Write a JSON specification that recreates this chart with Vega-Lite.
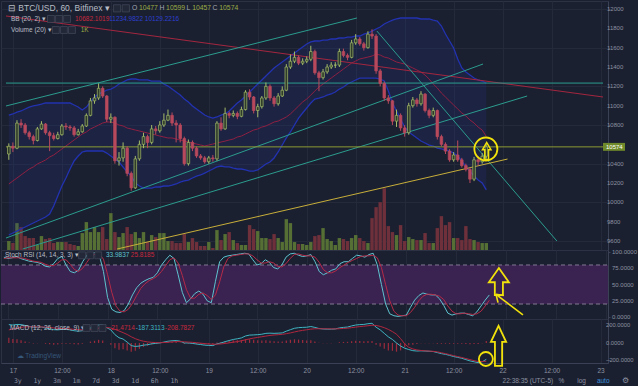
{
"$schema":"https://vega.github.io/schema/vega-lite/v6.json",
"background":"#1b2030",
"padding":0,
"spacing":0,
"bounds":"flush",
"config":{
 "font":"Liberation Sans",
 "view":{"stroke":"#2c3243","strokeWidth":1},
 "axis":{"labelColor":"#8c92a0","labelFontSize":6,"gridColor":"#242a3a","gridWidth":1,"domainColor":"#3a4154","tickColor":"#3a4154","tickSize":2,"labelPadding":1.5,"labelOverlap":false}
},
"datasets":{
"bars":[
{"h":-1,"o":10500,"hi":10610,"lo":10440,"c":10580,"v":1260,"bu":10903,"bm":10190,"bl":9662,"k":92,"d":90,"m":210,"s":150,"hist":60},
{"h":0,"o":10580,"hi":10620,"lo":10520,"c":10560,"v":980,"bu":10914,"bm":10221,"bl":9683,"k":90,"d":91,"m":205,"s":160,"hist":45},
{"h":1,"o":10560,"hi":10850,"lo":10550,"c":10820,"v":3780,"bu":10934,"bm":10252,"bl":9703,"k":91,"d":91,"m":212,"s":170,"hist":42},
{"h":2,"o":10820,"hi":10860,"lo":10770,"c":10800,"v":3220,"bu":10945,"bm":10283,"bl":9724,"k":93,"d":91,"m":210,"s":178,"hist":32},
{"h":3,"o":10800,"hi":10820,"lo":10700,"c":10720,"v":1960,"bu":10966,"bm":10314,"bl":9745,"k":90,"d":91,"m":200,"s":184,"hist":16},
{"h":4,"o":10720,"hi":10740,"lo":10650,"c":10680,"v":1680,"bu":10986,"bm":10345,"bl":9766,"k":88,"d":90,"m":190,"s":185,"hist":5},
{"h":5,"o":10680,"hi":10700,"lo":10600,"c":10640,"v":1680,"bu":10997,"bm":10366,"bl":9786,"k":86,"d":88,"m":178,"s":184,"hist":-6},
{"h":6,"o":10640,"hi":10780,"lo":10630,"c":10760,"v":700,"bu":11007,"bm":10397,"bl":9807,"k":85,"d":86,"m":180,"s":183,"hist":-3},
{"h":7,"o":10760,"hi":10840,"lo":10750,"c":10810,"v":1960,"bu":11017,"bm":10417,"bl":9828,"k":84,"d":85,"m":182,"s":183,"hist":-1},
{"h":8,"o":10810,"hi":10820,"lo":10700,"c":10720,"v":1540,"bu":11028,"bm":10438,"bl":9848,"k":82,"d":84,"m":172,"s":181,"hist":-9},
{"h":9,"o":10720,"hi":10740,"lo":10530,"c":10690,"v":1680,"bu":11028,"bm":10469,"bl":9879,"k":78,"d":81,"m":162,"s":177,"hist":-15},
{"h":10,"o":10690,"hi":10720,"lo":10640,"c":10660,"v":980,"bu":11028,"bm":10490,"bl":9962,"k":77,"d":79,"m":152,"s":172,"hist":-20},
{"h":11,"o":10660,"hi":10730,"lo":10650,"c":10700,"v":1120,"bu":11028,"bm":10521,"bl":10066,"k":82,"d":79,"m":150,"s":168,"hist":-18},
{"h":12,"o":10700,"hi":10810,"lo":10690,"c":10790,"v":1120,"bu":11028,"bm":10552,"bl":10169,"k":90,"d":83,"m":155,"s":165,"hist":-10},
{"h":13,"o":10790,"hi":10820,"lo":10750,"c":10780,"v":1120,"bu":11028,"bm":10583,"bl":10252,"k":93,"d":88,"m":155,"s":163,"hist":-8},
{"h":14,"o":10780,"hi":10800,"lo":10740,"c":10770,"v":840,"bu":11028,"bm":10614,"bl":10345,"k":80,"d":88,"m":150,"s":160,"hist":-10},
{"h":15,"o":10770,"hi":10790,"lo":10680,"c":10700,"v":700,"bu":11007,"bm":10645,"bl":10428,"k":70,"d":81,"m":140,"s":156,"hist":-16},
{"h":16,"o":10700,"hi":10760,"lo":10690,"c":10730,"v":560,"bu":10986,"bm":10676,"bl":10479,"k":68,"d":73,"m":135,"s":152,"hist":-17},
{"h":17,"o":10730,"hi":10810,"lo":10720,"c":10790,"v":2380,"bu":10955,"bm":10707,"bl":10521,"k":72,"d":70,"m":140,"s":150,"hist":-10},
{"h":18,"o":10790,"hi":10920,"lo":10780,"c":10900,"v":3920,"bu":10986,"bm":10728,"bl":10531,"k":85,"d":75,"m":150,"s":150,"hist":0},
{"h":19,"o":10900,"hi":11080,"lo":10890,"c":11050,"v":2520,"bu":11038,"bm":10759,"bl":10531,"k":95,"d":84,"m":170,"s":154,"hist":16},
{"h":20,"o":11050,"hi":11120,"lo":11020,"c":11080,"v":3220,"bu":11090,"bm":10779,"bl":10531,"k":98,"d":93,"m":185,"s":160,"hist":25},
{"h":21,"o":11080,"hi":11230,"lo":11060,"c":11180,"v":2520,"bu":11121,"bm":10800,"bl":10531,"k":99,"d":97,"m":205,"s":169,"hist":36},
{"h":22,"o":11180,"hi":11200,"lo":11080,"c":11100,"v":3220,"bu":11141,"bm":10821,"bl":10531,"k":95,"d":97,"m":205,"s":176,"hist":29},
{"h":23,"o":11100,"hi":11110,"lo":10830,"c":10860,"v":1540,"bu":11162,"bm":10831,"bl":10510,"k":70,"d":89,"m":175,"s":176,"hist":-1},
{"h":24,"o":10860,"hi":10920,"lo":10820,"c":10880,"v":5180,"bu":11172,"bm":10831,"bl":10479,"k":30,"d":65,"m":150,"s":171,"hist":-21},
{"h":25,"o":10880,"hi":10890,"lo":10400,"c":10430,"v":2520,"bu":11193,"bm":10821,"bl":10448,"k":12,"d":38,"m":95,"s":156,"hist":-61},
{"h":26,"o":10430,"hi":10520,"lo":10380,"c":10460,"v":1820,"bu":11224,"bm":10800,"bl":10417,"k":8,"d":17,"m":60,"s":137,"hist":-77},
{"h":27,"o":10460,"hi":10620,"lo":10420,"c":10560,"v":2380,"bu":11245,"bm":10790,"bl":10366,"k":7,"d":9,"m":45,"s":118,"hist":-73},
{"h":28,"o":10560,"hi":10580,"lo":10270,"c":10300,"v":3220,"bu":11266,"bm":10769,"bl":10314,"k":10,"d":8,"m":10,"s":97,"hist":-87},
{"h":29,"o":10300,"hi":10320,"lo":10120,"c":10150,"v":2240,"bu":11276,"bm":10759,"bl":10272,"k":20,"d":12,"m":-30,"s":71,"hist":-101},
{"h":30,"o":10150,"hi":10480,"lo":10140,"c":10450,"v":2520,"bu":11276,"bm":10748,"bl":10200,"k":34,"d":21,"m":-40,"s":49,"hist":-89},
{"h":31,"o":10450,"hi":10640,"lo":10430,"c":10600,"v":1680,"bu":11266,"bm":10738,"bl":10169,"k":45,"d":33,"m":-35,"s":32,"hist":-67},
{"h":32,"o":10600,"hi":10720,"lo":10560,"c":10680,"v":2520,"bu":11266,"bm":10728,"bl":10148,"k":52,"d":44,"m":-25,"s":20,"hist":-45},
{"h":33,"o":10680,"hi":10700,"lo":10560,"c":10620,"v":1120,"bu":11266,"bm":10717,"bl":10148,"k":56,"d":51,"m":-20,"s":12,"hist":-32},
{"h":34,"o":10620,"hi":10800,"lo":10600,"c":10760,"v":2100,"bu":11255,"bm":10707,"bl":10148,"k":59,"d":56,"m":-10,"s":7,"hist":-17},
{"h":35,"o":10760,"hi":10790,"lo":10700,"c":10740,"v":1820,"bu":11255,"bm":10697,"bl":10159,"k":61,"d":59,"m":-5,"s":4,"hist":-9},
{"h":36,"o":10740,"hi":10840,"lo":10720,"c":10800,"v":2380,"bu":11255,"bm":10686,"bl":10159,"k":68,"d":63,"m":0,"s":3,"hist":-3},
{"h":37,"o":10800,"hi":10920,"lo":10780,"c":10850,"v":2380,"bu":11224,"bm":10676,"bl":10169,"k":80,"d":70,"m":10,"s":5,"hist":5},
{"h":38,"o":10850,"hi":10960,"lo":10840,"c":10900,"v":1260,"bu":11203,"bm":10666,"bl":10169,"k":88,"d":79,"m":20,"s":8,"hist":12},
{"h":39,"o":10900,"hi":10930,"lo":10790,"c":10820,"v":1260,"bu":11172,"bm":10666,"bl":10179,"k":95,"d":88,"m":25,"s":12,"hist":13},
{"h":40,"o":10820,"hi":10850,"lo":10620,"c":10800,"v":980,"bu":11141,"bm":10655,"bl":10190,"k":90,"d":91,"m":28,"s":15,"hist":13},
{"h":41,"o":10800,"hi":10820,"lo":10620,"c":10660,"v":980,"bu":11110,"bm":10645,"bl":10210,"k":65,"d":83,"m":20,"s":16,"hist":4},
{"h":42,"o":10660,"hi":10680,"lo":10380,"c":10400,"v":2240,"bu":11069,"bm":10634,"bl":10221,"k":38,"d":64,"m":0,"s":13,"hist":-13},
{"h":43,"o":10400,"hi":10650,"lo":10380,"c":10620,"v":1120,"bu":11038,"bm":10624,"bl":10231,"k":22,"d":42,"m":0,"s":10,"hist":-10},
{"h":44,"o":10620,"hi":10640,"lo":10530,"c":10560,"v":1680,"bu":10997,"bm":10614,"bl":10252,"k":28,"d":29,"m":-5,"s":7,"hist":-12},
{"h":45,"o":10560,"hi":10580,"lo":10460,"c":10480,"v":1120,"bu":10966,"bm":10603,"bl":10272,"k":36,"d":29,"m":-12,"s":3,"hist":-15},
{"h":46,"o":10480,"hi":10500,"lo":10440,"c":10460,"v":560,"bu":10934,"bm":10593,"bl":10283,"k":40,"d":35,"m":-18,"s":-2,"hist":-16},
{"h":47,"o":10460,"hi":10480,"lo":10400,"c":10420,"v":560,"bu":10903,"bm":10583,"bl":10303,"k":35,"d":37,"m":-25,"s":-7,"hist":-18},
{"h":48,"o":10420,"hi":10480,"lo":10400,"c":10460,"v":1120,"bu":10883,"bm":10593,"bl":10324,"k":25,"d":33,"m":-28,"s":-11,"hist":-17},
{"h":49,"o":10460,"hi":10490,"lo":10420,"c":10450,"v":280,"bu":10872,"bm":10603,"bl":10345,"k":22,"d":27,"m":-30,"s":-15,"hist":-15},
{"h":50,"o":10450,"hi":10840,"lo":10430,"c":10820,"v":2800,"bu":10883,"bm":10614,"bl":10366,"k":55,"d":34,"m":-10,"s":-14,"hist":4},
{"h":51,"o":10820,"hi":10880,"lo":10740,"c":10760,"v":1400,"bu":10903,"bm":10624,"bl":10376,"k":85,"d":54,"m":0,"s":-11,"hist":11},
{"h":52,"o":10760,"hi":10980,"lo":10750,"c":10920,"v":2240,"bu":10914,"bm":10634,"bl":10366,"k":92,"d":77,"m":15,"s":-6,"hist":21},
{"h":53,"o":10920,"hi":10940,"lo":10870,"c":10900,"v":2520,"bu":10945,"bm":10645,"bl":10366,"k":94,"d":90,"m":28,"s":1,"hist":27},
{"h":54,"o":10900,"hi":10950,"lo":10880,"c":10920,"v":1400,"bu":10986,"bm":10655,"bl":10355,"k":95,"d":94,"m":40,"s":9,"hist":31},
{"h":55,"o":10920,"hi":10940,"lo":10860,"c":10890,"v":980,"bu":11028,"bm":10676,"bl":10345,"k":96,"d":95,"m":48,"s":16,"hist":32},
{"h":56,"o":10890,"hi":10990,"lo":10880,"c":10960,"v":700,"bu":11059,"bm":10686,"bl":10345,"k":97,"d":96,"m":58,"s":25,"hist":33},
{"h":57,"o":10960,"hi":11160,"lo":10950,"c":11140,"v":700,"bu":11100,"bm":10707,"bl":10335,"k":98,"d":97,"m":80,"s":36,"hist":44},
{"h":58,"o":11140,"hi":11170,"lo":11060,"c":11090,"v":3500,"bu":11141,"bm":10728,"bl":10324,"k":97,"d":97,"m":90,"s":47,"hist":43},
{"h":59,"o":11090,"hi":11100,"lo":10920,"c":10950,"v":2940,"bu":11183,"bm":10748,"bl":10324,"k":88,"d":94,"m":92,"s":56,"hist":36},
{"h":60,"o":10950,"hi":11020,"lo":10880,"c":10990,"v":2660,"bu":11224,"bm":10759,"bl":10335,"k":80,"d":88,"m":95,"s":64,"hist":31},
{"h":61,"o":10990,"hi":11100,"lo":10970,"c":11080,"v":1680,"bu":11266,"bm":10779,"bl":10366,"k":82,"d":83,"m":100,"s":71,"hist":29},
{"h":62,"o":11080,"hi":11240,"lo":11060,"c":11200,"v":1680,"bu":11307,"bm":10790,"bl":10397,"k":88,"d":83,"m":110,"s":79,"hist":31},
{"h":63,"o":11200,"hi":11220,"lo":11050,"c":11080,"v":1540,"bu":11348,"bm":10810,"bl":10417,"k":84,"d":85,"m":112,"s":86,"hist":26},
{"h":64,"o":11080,"hi":11100,"lo":10990,"c":11020,"v":2240,"bu":11390,"bm":10831,"bl":10459,"k":76,"d":83,"m":110,"s":91,"hist":19},
{"h":65,"o":11020,"hi":11130,"lo":11000,"c":11100,"v":1680,"bu":11421,"bm":10841,"bl":10521,"k":74,"d":78,"m":112,"s":95,"hist":17},
{"h":66,"o":11100,"hi":11200,"lo":11090,"c":11160,"v":1120,"bu":11452,"bm":10862,"bl":10593,"k":80,"d":77,"m":115,"s":99,"hist":16},
{"h":67,"o":11160,"hi":11430,"lo":11150,"c":11400,"v":4340,"bu":11483,"bm":10883,"bl":10666,"k":92,"d":82,"m":135,"s":106,"hist":29},
{"h":68,"o":11400,"hi":11530,"lo":11380,"c":11460,"v":3780,"bu":11514,"bm":10914,"bl":10728,"k":97,"d":90,"m":152,"s":115,"hist":37},
{"h":69,"o":11460,"hi":11560,"lo":11440,"c":11500,"v":1120,"bu":11545,"bm":10955,"bl":10800,"k":98,"d":96,"m":168,"s":126,"hist":42},
{"h":70,"o":11500,"hi":11520,"lo":11420,"c":11440,"v":840,"bu":11576,"bm":10997,"bl":10872,"k":95,"d":97,"m":175,"s":136,"hist":39},
{"h":71,"o":11440,"hi":11490,"lo":11420,"c":11460,"v":840,"bu":11607,"bm":11038,"bl":10924,"k":93,"d":95,"m":178,"s":144,"hist":34},
{"h":72,"o":11460,"hi":11510,"lo":11440,"c":11480,"v":700,"bu":11638,"bm":11069,"bl":10976,"k":94,"d":94,"m":180,"s":151,"hist":29},
{"h":73,"o":11480,"hi":11620,"lo":11460,"c":11560,"v":1120,"bu":11659,"bm":11110,"bl":11028,"k":96,"d":94,"m":188,"s":158,"hist":30},
{"h":74,"o":11560,"hi":11580,"lo":11320,"c":11340,"v":1960,"bu":11669,"bm":11152,"bl":11069,"k":85,"d":92,"m":178,"s":162,"hist":16},
{"h":75,"o":11340,"hi":11360,"lo":11150,"c":11290,"v":2100,"bu":11669,"bm":11193,"bl":11079,"k":70,"d":84,"m":165,"s":163,"hist":2},
{"h":76,"o":11290,"hi":11380,"lo":11270,"c":11350,"v":3080,"bu":11679,"bm":11224,"bl":11090,"k":65,"d":73,"m":160,"s":162,"hist":-2},
{"h":77,"o":11350,"hi":11430,"lo":11330,"c":11400,"v":1540,"bu":11679,"bm":11255,"bl":11110,"k":68,"d":68,"m":158,"s":162,"hist":-4},
{"h":78,"o":11400,"hi":11450,"lo":11380,"c":11420,"v":1260,"bu":11690,"bm":11286,"bl":11121,"k":72,"d":68,"m":158,"s":161,"hist":-3},
{"h":79,"o":11420,"hi":11450,"lo":11390,"c":11420,"v":700,"bu":11690,"bm":11317,"bl":11141,"k":74,"d":71,"m":160,"s":161,"hist":-1},
{"h":80,"o":11420,"hi":11590,"lo":11400,"c":11560,"v":1680,"bu":11700,"bm":11348,"bl":11172,"k":82,"d":76,"m":172,"s":163,"hist":9},
{"h":81,"o":11560,"hi":11590,"lo":11500,"c":11520,"v":1540,"bu":11700,"bm":11379,"bl":11193,"k":85,"d":80,"m":178,"s":166,"hist":12},
{"h":82,"o":11520,"hi":11540,"lo":11470,"c":11500,"v":1260,"bu":11710,"bm":11410,"bl":11224,"k":85,"d":84,"m":182,"s":169,"hist":13},
{"h":83,"o":11500,"hi":11680,"lo":11490,"c":11650,"v":1680,"bu":11710,"bm":11441,"bl":11245,"k":90,"d":87,"m":195,"s":175,"hist":20},
{"h":84,"o":11650,"hi":11740,"lo":11630,"c":11690,"v":2100,"bu":11721,"bm":11462,"bl":11266,"k":95,"d":90,"m":205,"s":181,"hist":24},
{"h":85,"o":11690,"hi":11710,"lo":11620,"c":11640,"v":1680,"bu":11721,"bm":11483,"bl":11286,"k":94,"d":93,"m":210,"s":187,"hist":23},
{"h":86,"o":11640,"hi":11660,"lo":11570,"c":11600,"v":1260,"bu":11741,"bm":11493,"bl":11286,"k":92,"d":94,"m":212,"s":192,"hist":20},
{"h":87,"o":11600,"hi":11770,"lo":11590,"c":11740,"v":980,"bu":11752,"bm":11503,"bl":11286,"k":96,"d":94,"m":220,"s":197,"hist":23},
{"h":88,"o":11740,"hi":11790,"lo":11690,"c":11720,"v":4480,"bu":11772,"bm":11514,"bl":11286,"k":98,"d":95,"m":225,"s":203,"hist":22},
{"h":89,"o":11720,"hi":11740,"lo":11330,"c":11360,"v":6020,"bu":11793,"bm":11534,"bl":11286,"k":80,"d":91,"m":180,"s":200,"hist":-20},
{"h":90,"o":11360,"hi":11380,"lo":11200,"c":11230,"v":6720,"bu":11814,"bm":11524,"bl":11276,"k":50,"d":76,"m":150,"s":190,"hist":-40},
{"h":91,"o":11230,"hi":11250,"lo":11050,"c":11080,"v":8680,"bu":11845,"bm":11503,"bl":11255,"k":20,"d":50,"m":110,"s":175,"hist":-65},
{"h":92,"o":11080,"hi":11110,"lo":11020,"c":11050,"v":3360,"bu":11866,"bm":11493,"bl":11152,"k":5,"d":25,"m":70,"s":155,"hist":-85},
{"h":93,"o":11050,"hi":11060,"lo":10800,"c":10840,"v":2520,"bu":11886,"bm":11472,"bl":11028,"k":2,"d":9,"m":40,"s":130,"hist":-90},
{"h":94,"o":10840,"hi":10960,"lo":10780,"c":10900,"v":2100,"bu":11897,"bm":11452,"bl":10945,"k":1,"d":3,"m":0,"s":100,"hist":-100},
{"h":95,"o":10900,"hi":10920,"lo":10740,"c":10770,"v":3500,"bu":11907,"bm":11441,"bl":10862,"k":2,"d":2,"m":-35,"s":50,"hist":-85},
{"h":96,"o":10770,"hi":10800,"lo":10680,"c":10720,"v":1260,"bu":11907,"bm":11431,"bl":10779,"k":3,"d":2,"m":-60,"s":-10,"hist":-50},
{"h":97,"o":10720,"hi":11030,"lo":10700,"c":11000,"v":1820,"bu":11907,"bm":11410,"bl":10728,"k":15,"d":7,"m":-75,"s":-50,"hist":-25},
{"h":98,"o":11000,"hi":11090,"lo":10980,"c":11060,"v":1540,"bu":11907,"bm":11390,"bl":10697,"k":26,"d":15,"m":-88,"s":-68,"hist":-20},
{"h":99,"o":11060,"hi":11080,"lo":10990,"c":11020,"v":1400,"bu":11907,"bm":11369,"bl":10666,"k":33,"d":25,"m":-92,"s":-80,"hist":-12},
{"h":100,"o":11020,"hi":11150,"lo":11000,"c":11120,"v":1400,"bu":11897,"bm":11348,"bl":10634,"k":37,"d":32,"m":-90,"s":-86,"hist":-4},
{"h":101,"o":11120,"hi":11130,"lo":10930,"c":10950,"v":2380,"bu":11897,"bm":11317,"bl":10614,"k":35,"d":35,"m":-92,"s":-90,"hist":-2},
{"h":102,"o":10950,"hi":10970,"lo":10870,"c":10900,"v":980,"bu":11897,"bm":11276,"bl":10593,"k":34,"d":35,"m":-95,"s":-93,"hist":-2},
{"h":103,"o":10900,"hi":10980,"lo":10880,"c":10950,"v":980,"bu":11886,"bm":11224,"bl":10583,"k":34,"d":34,"m":-98,"s":-96,"hist":-2},
{"h":104,"o":10950,"hi":10960,"lo":10650,"c":10680,"v":3080,"bu":11876,"bm":11183,"bl":10562,"k":28,"d":32,"m":-110,"s":-102,"hist":-8},
{"h":105,"o":10680,"hi":10700,"lo":10580,"c":10600,"v":4760,"bu":11824,"bm":11131,"bl":10552,"k":18,"d":27,"m":-122,"s":-112,"hist":-10},
{"h":106,"o":10600,"hi":10620,"lo":10500,"c":10530,"v":3500,"bu":11741,"bm":11090,"bl":10541,"k":6,"d":17,"m":-130,"s":-122,"hist":-8},
{"h":107,"o":10530,"hi":10550,"lo":10420,"c":10440,"v":3920,"bu":11669,"bm":11048,"bl":10531,"k":3,"d":9,"m":-142,"s":-133,"hist":-9},
{"h":108,"o":10440,"hi":10520,"lo":10420,"c":10490,"v":1680,"bu":11597,"bm":11007,"bl":10510,"k":5,"d":5,"m":-155,"s":-145,"hist":-10},
{"h":109,"o":10490,"hi":10640,"lo":10420,"c":10440,"v":1680,"bu":11483,"bm":10966,"bl":10479,"k":6,"d":5,"m":-165,"s":-156,"hist":-9},
{"h":110,"o":10440,"hi":10460,"lo":10360,"c":10380,"v":1400,"bu":11390,"bm":10924,"bl":10428,"k":6,"d":6,"m":-175,"s":-166,"hist":-9},
{"h":111,"o":10380,"hi":10400,"lo":10320,"c":10340,"v":3360,"bu":11348,"bm":10893,"bl":10366,"k":4,"d":5,"m":-190,"s":-178,"hist":-12},
{"h":112,"o":10340,"hi":10360,"lo":10200,"c":10240,"v":1540,"bu":11317,"bm":10852,"bl":10324,"k":2,"d":4,"m":-205,"s":-190,"hist":-15},
{"h":113,"o":10240,"hi":10470,"lo":10220,"c":10440,"v":1400,"bu":11286,"bm":10821,"bl":10272,"k":8,"d":5,"m":-215,"s":-202,"hist":-13},
{"h":114,"o":10440,"hi":10480,"lo":10380,"c":10420,"v":1120,"bu":11266,"bm":10779,"bl":10231,"k":17,"d":9,"m":-225,"s":-212,"hist":-13},
{"h":115,"o":10420,"hi":10510,"lo":10400,"c":10477,"v":980,"bu":11255,"bm":10748,"bl":10200,"k":26,"d":17,"m":-215,"s":-212,"hist":-3},
{"h":116,"o":10477,"hi":10599,"lo":10457,"c":10574,"v":980,"bu":11235,"bm":10682,"bl":10129,"k":33.98,"d":25.82,"m":-187.31,"s":-208.78,"hist":21.47}
],
"lines":[
{"line":"downtrend","h1":-1.69,"p1":11928,"h2":144.6,"p2":11090},
{"line":"level","h1":-1.69,"p1":11234,"h2":144.6,"p2":11234},
{"line":"channel","h1":-1.69,"p1":10997,"h2":84.3,"p2":11907},
{"line":"channel","h1":-1.69,"p1":9631,"h2":115.2,"p2":11431},
{"line":"channel","h1":2.4,"p1":9517,"h2":126,"p2":11100},
{"line":"channel","h1":89.2,"p1":11772,"h2":133.3,"p2":9600},
{"line":"support","h1":25.5,"p1":9517,"h2":121.2,"p2":10448}
]
},
"vconcat":[
{
 "width":607,"height":249,
 "layer":[
  {"data":{"name":"bars"},"mark":{"type":"bar","size":3.4},"encoding":{"x":{"field":"h","type":"quantitative","title":null,"scale":{"domain":[-1.69,144.6],"nice":false,"zero":false},"axis":{"values":[0,12,24,36,48,60,72,84,96,108,120,132,144],"labels":false,"ticks":false,"domain":false,"grid":true}},"y":{"field":"v","type":"quantitative","title":null,"scale":{"domain":[0,35000],"nice":false},"axis":null},"color":{"condition":{"test":"datum.c >= datum.o","value":"#566f34"},"value":"#6e303b"}}},
  {"layer":[
   {"data":{"name":"bars"},
    "encoding":{"x":{"field":"h","type":"quantitative","title":null,"scale":{"domain":[-1.69,144.6],"nice":false,"zero":false}}},
    "layer":[
     {"mark":{"type":"area","color":"#2a3590","opacity":0.2},"encoding":{"y":{"field":"bu","type":"quantitative","title":null,"scale":{"domain":[9507,12083],"nice":false,"zero":false},"axis":{"orient":"right","values":[9600,9800,10000,10200,10400,10600,10800,11000,11200,11400,11600,11800,12000],"labels":false,"grid":true}},"y2":{"field":"bl"}}},
     {"mark":{"type":"line","color":"#2232b0","strokeWidth":1.3},"encoding":{"y":{"field":"bu","type":"quantitative","title":null}}},
     {"mark":{"type":"line","color":"#2232b0","strokeWidth":1.3},"encoding":{"y":{"field":"bl","type":"quantitative","title":null}}},
     {"mark":{"type":"line","color":"#8e1f42","strokeWidth":1},"encoding":{"y":{"field":"bm","type":"quantitative","title":null}}}
    ]},
   {"data":{"values":[{"t":9600},{"t":9800},{"t":10000},{"t":10200},{"t":10400},{"t":10800},{"t":11000},{"t":11200},{"t":11400},{"t":11600},{"t":11800},{"t":12000}]},"mark":{"type":"text","align":"left","baseline":"middle","dx":4,"fontSize":6,"color":"#8c92a0"},"encoding":{"x":{"datum":144.6,"type":"quantitative"},"y":{"field":"t","type":"quantitative","title":null},"text":{"field":"t","type":"quantitative","format":"d"}}},
   {"data":{"name":"lines"},"mark":{"type":"rule","strokeWidth":1,"clip":true},"encoding":{"x":{"field":"h1","type":"quantitative","title":null},"x2":{"field":"h2"},"y":{"field":"p1","type":"quantitative","title":null},"y2":{"field":"p2"},"color":{"field":"line","type":"nominal","legend":null,"scale":{"domain":["downtrend","channel","level","support"],"range":["#a3263f","#2b9c8e","#2b9c8e","#c7ae3a"]}}}},
   {"data":{"values":[{}]},"mark":{"type":"rule","color":"#8c9a34","strokeWidth":1},"encoding":{"x":{"datum":-1.69,"type":"quantitative"},"x2":{"datum":144.6},"y":{"datum":10574,"type":"quantitative"}}},
   {"data":{"name":"bars"},
    "encoding":{"x":{"field":"h","type":"quantitative","title":null}},
    "layer":[
     {"mark":{"type":"rule","strokeWidth":1},"encoding":{"y":{"field":"lo","type":"quantitative","title":null},"y2":{"field":"hi"},"color":{"condition":{"test":"datum.c >= datum.o","value":"#a4bb68"},"value":"#b8495d"}}},
     {"mark":{"type":"bar","size":2.6,"strokeWidth":0.7},"encoding":{"y":{"field":"o","type":"quantitative","title":null},"y2":{"field":"c"},"fill":{"condition":{"test":"datum.c >= datum.o","value":"#2f3b2b"},"value":"#b8495d"},"stroke":{"condition":{"test":"datum.c >= datum.o","value":"#a4bb68"},"value":"#b8495d"}}}
    ]},
   {"data":{"values":[{}]},"mark":{"type":"point","shape":"circle","size":530,"filled":false,"stroke":"#f2e20c","strokeWidth":1.8,"opacity":1},"encoding":{"x":{"datum":115.9,"type":"quantitative"},"y":{"datum":10552,"type":"quantitative"}}},
   {"data":{"values":[{}]},"mark":{"type":"point","shape":"M -0.22 1 L -0.22 -0.15 L -0.5 -0.15 L 0 -1 L 0.5 -0.15 L 0.22 -0.15 L 0.22 1 Z","size":289,"filled":false,"stroke":"#f2e20c","strokeWidth":1.5,"opacity":1},"encoding":{"x":{"datum":116.1,"type":"quantitative"},"y":{"datum":10531,"type":"quantitative"}}},
   {"data":{"values":[{}]},"mark":{"type":"point","shape":"M 0 -0.36 L 2 -0.36 L 2 0.36 L 0 0.36 Z","size":484,"filled":true,"color":"#6f8a2a","opacity":1},"encoding":{"x":{"datum":144.6,"type":"quantitative"},"y":{"datum":10574,"type":"quantitative"}}},
   {"data":{"values":[{}]},"mark":{"type":"text","text":"10574","align":"left","baseline":"middle","dx":3,"fontSize":6,"color":"#ffffff"},"encoding":{"x":{"datum":144.6,"type":"quantitative"},"y":{"datum":10574,"type":"quantitative"}}},
   {"data":{"values":[{}]},"mark":{"type":"text","text":"⊟ BTC/USD, 60, Bitfinex ▾","align":"left","baseline":"middle","fontSize":8.5,"color":"#b9bdc6"},"encoding":{"x":{"datum":-1.2,"type":"quantitative"},"y":{"datum":12007,"type":"quantitative"}}},
   {"data":{"values":[{}]},"mark":{"type":"point","shape":"M -1 -0.45 H -0.1 V 0.45 H -1 Z M 0.1 -0.45 H 1 V 0.45 H 0.1 Z","size":256,"filled":true,"fill":"#232838","stroke":"#4a5062","strokeWidth":0.6,"opacity":1},"encoding":{"x":{"datum":26.6,"type":"quantitative"},"y":{"datum":12007,"type":"quantitative"}}},
   {"data":{"values":[{}]},"mark":{"type":"text","text":"O","align":"left","baseline":"middle","fontSize":6.8,"color":"#a2a7b1"},"encoding":{"x":{"datum":29.16,"type":"quantitative"},"y":{"datum":12007,"type":"quantitative"}}},
   {"data":{"values":[{}]},"mark":{"type":"text","text":"10477","align":"left","baseline":"middle","fontSize":6.8,"color":"#9aab45"},"encoding":{"x":{"datum":30.89,"type":"quantitative"},"y":{"datum":12007,"type":"quantitative"}}},
   {"data":{"values":[{}]},"mark":{"type":"text","text":"H","align":"left","baseline":"middle","fontSize":6.8,"color":"#a2a7b1"},"encoding":{"x":{"datum":35.9,"type":"quantitative"},"y":{"datum":12007,"type":"quantitative"}}},
   {"data":{"values":[{}]},"mark":{"type":"text","text":"10599","align":"left","baseline":"middle","fontSize":6.8,"color":"#9aab45"},"encoding":{"x":{"datum":37.54,"type":"quantitative"},"y":{"datum":12007,"type":"quantitative"}}},
   {"data":{"values":[{}]},"mark":{"type":"text","text":"L","align":"left","baseline":"middle","fontSize":6.8,"color":"#a2a7b1"},"encoding":{"x":{"datum":42.55,"type":"quantitative"},"y":{"datum":12007,"type":"quantitative"}}},
   {"data":{"values":[{}]},"mark":{"type":"text","text":"10457","align":"left","baseline":"middle","fontSize":6.8,"color":"#9aab45"},"encoding":{"x":{"datum":43.93,"type":"quantitative"},"y":{"datum":12007,"type":"quantitative"}}},
   {"data":{"values":[{}]},"mark":{"type":"text","text":"C","align":"left","baseline":"middle","fontSize":6.8,"color":"#a2a7b1"},"encoding":{"x":{"datum":48.94,"type":"quantitative"},"y":{"datum":12007,"type":"quantitative"}}},
   {"data":{"values":[{}]},"mark":{"type":"text","text":"10574","align":"left","baseline":"middle","fontSize":6.8,"color":"#9aab45"},"encoding":{"x":{"datum":50.58,"type":"quantitative"},"y":{"datum":12007,"type":"quantitative"}}},
   {"data":{"values":[{}]},"mark":{"type":"text","text":"BB (20, 2) ▾","align":"left","baseline":"middle","fontSize":6.5,"color":"#b9bdc6"},"encoding":{"x":{"datum":-0.48,"type":"quantitative"},"y":{"datum":11897,"type":"quantitative"}}},
   {"data":{"values":[{}]},"mark":{"type":"point","shape":"M -1 -0.3 H -0.4 V 0.3 H -1 Z M -0.3 -0.3 H 0.3 V 0.3 H -0.3 Z M 0.4 -0.3 H 1 V 0.3 H 0.4 Z","size":529,"filled":true,"fill":"#232838","stroke":"#4a5062","strokeWidth":0.6,"opacity":1},"encoding":{"x":{"datum":11.3,"type":"quantitative"},"y":{"datum":11897,"type":"quantitative"}}},
   {"data":{"values":[{}]},"mark":{"type":"text","text":"10682.1019","align":"left","baseline":"middle","fontSize":6.5,"color":"#c8283f"},"encoding":{"x":{"datum":15.2,"type":"quantitative"},"y":{"datum":11897,"type":"quantitative"}}},
   {"data":{"values":[{}]},"mark":{"type":"text","text":"11234.9822 10129.2216","align":"left","baseline":"middle","fontSize":6.5,"color":"#2b3fd0"},"encoding":{"x":{"datum":23.6,"type":"quantitative"},"y":{"datum":11897,"type":"quantitative"}}},
   {"data":{"values":[{}]},"mark":{"type":"text","text":"Volume (20) ▾","align":"left","baseline":"middle","fontSize":6.5,"color":"#b9bdc6"},"encoding":{"x":{"datum":-0.48,"type":"quantitative"},"y":{"datum":11783,"type":"quantitative"}}},
   {"data":{"values":[{}]},"mark":{"type":"point","shape":"M -1 -0.3 H -0.4 V 0.3 H -1 Z M -0.3 -0.3 H 0.3 V 0.3 H -0.3 Z M 0.4 -0.3 H 1 V 0.3 H 0.4 Z","size":529,"filled":true,"fill":"#232838","stroke":"#4a5062","strokeWidth":0.6,"opacity":1},"encoding":{"x":{"datum":12.5,"type":"quantitative"},"y":{"datum":11783,"type":"quantitative"}}},
   {"data":{"values":[{}]},"mark":{"type":"text","text":"1K","align":"left","baseline":"middle","fontSize":6.5,"color":"#9aab45"},"encoding":{"x":{"datum":16.6,"type":"quantitative"},"y":{"datum":11783,"type":"quantitative"}}}
  ]}
 ],
 "resolve":{"scale":{"y":"independent"}}
},
{
 "width":607,"height":69,
 "layer":[
  {"data":{"values":[{}]},"mark":{"type":"rect","color":"#3a2350"},"encoding":{"x":{"datum":-1.69,"type":"quantitative","scale":{"domain":[-1.69,144.6],"nice":false,"zero":false},"axis":{"values":[0,12,24,36,48,60,72,84,96,108,120,132,144],"labels":false,"ticks":false,"domain":false,"grid":true}},"x2":{"datum":144.6},"y":{"datum":80,"type":"quantitative","title":null,"scale":{"domain":[-3,103],"nice":false,"zero":false},"axis":{"orient":"right","values":[0,25,50,75,100],"labels":false,"grid":false}},"y2":{"datum":20}}},
  {"data":{"values":[{"t":0},{"t":25},{"t":50},{"t":75},{"t":100}]},"mark":{"type":"text","align":"left","baseline":"middle","dx":4,"fontSize":6,"color":"#8c92a0"},"encoding":{"x":{"datum":144.6,"type":"quantitative"},"y":{"field":"t","type":"quantitative","title":null},"text":{"field":"t","type":"quantitative","format":".4f"}}},
  {"data":{"values":[{}]},"mark":{"type":"rule","color":"#9a8fa8","strokeWidth":0.8,"strokeDash":[4,3]},"encoding":{"x":{"datum":-1.69,"type":"quantitative"},"x2":{"datum":144.6},"y":{"datum":80,"type":"quantitative"}}},
  {"data":{"values":[{}]},"mark":{"type":"rule","color":"#9a8fa8","strokeWidth":0.8,"strokeDash":[4,3]},"encoding":{"x":{"datum":-1.69,"type":"quantitative"},"x2":{"datum":144.6},"y":{"datum":20,"type":"quantitative"}}},
  {"data":{"name":"bars"},"mark":{"type":"line","color":"#5ec3cf","strokeWidth":1},"encoding":{"x":{"field":"h","type":"quantitative","title":null},"y":{"field":"k","type":"quantitative","title":null}}},
  {"data":{"name":"bars"},"mark":{"type":"line","color":"#b42a48","strokeWidth":1},"encoding":{"x":{"field":"h","type":"quantitative","title":null},"y":{"field":"d","type":"quantitative","title":null}}},
  {"data":{"values":[{}]},"mark":{"type":"text","text":"Stoch RSI (14, 14, 3, 3) ▾","align":"left","baseline":"middle","fontSize":6.5,"color":"#b9bdc6"},"encoding":{"x":{"datum":-0.72,"type":"quantitative"},"y":{"datum":94.8,"type":"quantitative"}}},
  {"data":{"values":[{}]},"mark":{"type":"point","shape":"M -1 -0.3 H -0.4 V 0.3 H -1 Z M -0.3 -0.3 H 0.3 V 0.3 H -0.3 Z M 0.4 -0.3 H 1 V 0.3 H 0.4 Z","size":529,"filled":true,"fill":"#232838","stroke":"#4a5062","strokeWidth":0.6,"opacity":1},"encoding":{"x":{"datum":19.8,"type":"quantitative"},"y":{"datum":94.8,"type":"quantitative"}}},
  {"data":{"values":[{}]},"mark":{"type":"text","text":"33.9837","align":"left","baseline":"middle","fontSize":6.5,"color":"#5ec3cf"},"encoding":{"x":{"datum":23.6,"type":"quantitative"},"y":{"datum":94.8,"type":"quantitative"}}},
  {"data":{"values":[{}]},"mark":{"type":"text","text":"25.8185","align":"left","baseline":"middle","fontSize":6.5,"color":"#c8283f"},"encoding":{"x":{"datum":29.6,"type":"quantitative"},"y":{"datum":94.8,"type":"quantitative"}}},
  {"data":{"values":[{}]},"mark":{"type":"point","shape":"M -0.3 1 L -0.3 0.05 L -0.74 0.05 L 0 -1 L 0.74 0.05 L 0.3 0.05 L 0.3 1 Z","size":729,"filled":false,"stroke":"#f2e20c","strokeWidth":1.8,"opacity":1},"encoding":{"x":{"datum":118.3,"type":"quantitative"},"y":{"datum":54.5,"type":"quantitative"}}},
  {"data":{"values":[{}]},"mark":{"type":"rule","color":"#f2e20c","strokeWidth":1.6},"encoding":{"x":{"datum":117.6,"type":"quantitative"},"x2":{"datum":124.1},"y":{"datum":34.8,"type":"quantitative"},"y2":{"datum":3.2}}},
  {"data":{"values":[{}]},"mark":{"type":"rule","color":"#f2e20c","strokeWidth":1.6},"encoding":{"x":{"datum":117.6,"type":"quantitative"},"x2":{"datum":119.5},"y":{"datum":34.8,"type":"quantitative"},"y2":{"datum":33.2}}},
  {"data":{"values":[{}]},"mark":{"type":"rule","color":"#f2e20c","strokeWidth":1.6},"encoding":{"x":{"datum":117.6,"type":"quantitative"},"x2":{"datum":118.1},"y":{"datum":34.8,"type":"quantitative"},"y2":{"datum":22.1}}}
 ]
},
{
 "width":607,"height":44,
 "layer":[
  {"data":{"name":"bars"},"mark":{"type":"bar","size":1.2,"color":"#9c2a3c"},"encoding":{"x":{"field":"h","type":"quantitative","title":null,"scale":{"domain":[-1.69,144.6],"nice":false,"zero":false},"axis":{"values":[0,12,24,36,48,60,72,84,96,108,120,132,144],"labelExpr":"datum.value % 24 == 0 ? toString(17 + datum.value / 24) : '12:00'","ticks":false,"grid":true,"domain":true,"labelPadding":4,"labelFlush":false,"labelOverlap":false,"labelFontSize":6.5}},"y":{"field":"hist","type":"quantitative","title":null,"scale":{"domain":[-229,274],"nice":false,"zero":false},"axis":{"orient":"right","values":[-200,0,200],"labels":false,"grid":false}}}},
  {"data":{"values":[{"t":-200},{"t":0},{"t":200}]},"mark":{"type":"text","align":"left","baseline":"middle","dx":3,"fontSize":5.8,"color":"#8c92a0"},"encoding":{"x":{"datum":144.6,"type":"quantitative"},"y":{"field":"t","type":"quantitative","title":null},"text":{"field":"t","type":"quantitative","format":".4f"}}},
  {"data":{"name":"bars"},"mark":{"type":"line","color":"#3fb4c2","strokeWidth":1},"encoding":{"x":{"field":"h","type":"quantitative","title":null},"y":{"field":"m","type":"quantitative","title":null}}},
  {"data":{"name":"bars"},"mark":{"type":"line","color":"#b0263f","strokeWidth":1},"encoding":{"x":{"field":"h","type":"quantitative","title":null},"y":{"field":"s","type":"quantitative","title":null}}},
  {"data":{"values":[{}]},"mark":{"type":"text","text":"MACD (12, 26, close, 9) ▾","align":"left","baseline":"middle","fontSize":6.5,"color":"#b9bdc6"},"encoding":{"x":{"datum":-0.72,"type":"quantitative"},"y":{"datum":171,"type":"quantitative"}}},
  {"data":{"values":[{}]},"mark":{"type":"point","shape":"M -1 -0.3 H -0.4 V 0.3 H -1 Z M -0.3 -0.3 H 0.3 V 0.3 H -0.3 Z M 0.4 -0.3 H 1 V 0.3 H 0.4 Z","size":529,"filled":true,"fill":"#232838","stroke":"#4a5062","strokeWidth":0.6,"opacity":1},"encoding":{"x":{"datum":20,"type":"quantitative"},"y":{"datum":171,"type":"quantitative"}}},
  {"data":{"values":[{}]},"mark":{"type":"text","text":"21.4714","align":"left","baseline":"middle","fontSize":6.5,"color":"#c8283f"},"encoding":{"x":{"datum":24.1,"type":"quantitative"},"y":{"datum":171,"type":"quantitative"}}},
  {"data":{"values":[{}]},"mark":{"type":"text","text":"-187.3113","align":"left","baseline":"middle","fontSize":6.5,"color":"#3fb4c2"},"encoding":{"x":{"datum":30.1,"type":"quantitative"},"y":{"datum":171,"type":"quantitative"}}},
  {"data":{"values":[{}]},"mark":{"type":"text","text":"-208.7827","align":"left","baseline":"middle","fontSize":6.5,"color":"#c8283f"},"encoding":{"x":{"datum":37.3,"type":"quantitative"},"y":{"datum":171,"type":"quantitative"}}},
  {"data":{"values":[{}]},"mark":{"type":"text","text":"☁ TradingView","align":"left","baseline":"middle","fontSize":6.5,"color":"#35577a"},"encoding":{"x":{"datum":0.9,"type":"quantitative"},"y":{"datum":-149,"type":"quantitative"}}},
  {"data":{"values":[{}]},"mark":{"type":"point","shape":"circle","size":196,"filled":false,"stroke":"#f2e20c","strokeWidth":1.8,"opacity":1},"encoding":{"x":{"datum":115.9,"type":"quantitative"},"y":{"datum":-183,"type":"quantitative"}}},
  {"data":{"values":[{}]},"mark":{"type":"point","shape":"M -0.18 1 L -0.18 -0.2 L -0.38 -0.2 L 0 -1 L 0.38 -0.2 L 0.18 -0.2 L 0.18 1 Z","size":1600,"filled":false,"stroke":"#f2e20c","strokeWidth":1.8,"opacity":1},"encoding":{"x":{"datum":119,"type":"quantitative"},"y":{"datum":-34,"type":"quantitative"}}},
  {"data":{"values":[{}]},"mark":{"type":"text","text":"3y\u00a0\u00a0\u00a01y\u00a0\u00a0\u00a03m\u00a0\u00a0\u00a01m\u00a0\u00a0\u00a07d\u00a0\u00a0\u00a03d\u00a0\u00a0\u00a01d\u00a0\u00a0\u00a06h\u00a0\u00a0\u00a01h","align":"left","baseline":"middle","fontSize":6.5,"font":"DejaVu Sans Mono","color":"#8c92a0"},"encoding":{"x":{"datum":0.24,"type":"quantitative"},"y":{"datum":-434,"type":"quantitative"}}},
  {"data":{"values":[{}]},"mark":{"type":"text","text":"22:38:35 (UTC-5)","align":"left","baseline":"middle","fontSize":6.5,"color":"#8c92a0"},"encoding":{"x":{"datum":120,"type":"quantitative"},"y":{"datum":-434,"type":"quantitative"}}},
  {"data":{"values":[{}]},"mark":{"type":"text","text":"%","align":"left","baseline":"middle","fontSize":6.5,"color":"#8c92a0"},"encoding":{"x":{"datum":133.7,"type":"quantitative"},"y":{"datum":-434,"type":"quantitative"}}},
  {"data":{"values":[{}]},"mark":{"type":"text","text":"log","align":"left","baseline":"middle","fontSize":6.5,"color":"#8c92a0"},"encoding":{"x":{"datum":138.3,"type":"quantitative"},"y":{"datum":-434,"type":"quantitative"}}},
  {"data":{"values":[{}]},"mark":{"type":"text","text":"auto","align":"left","baseline":"middle","fontSize":6.5,"color":"#3d8fd8"},"encoding":{"x":{"datum":143.1,"type":"quantitative"},"y":{"datum":-434,"type":"quantitative"}}},
  {"data":{"values":[{}]},"mark":{"type":"text","text":"⚙","align":"left","baseline":"middle","fontSize":8,"color":"#8c92a0"},"encoding":{"x":{"datum":149.3,"type":"quantitative"},"y":{"datum":-434,"type":"quantitative"}}}
 ]
}
]
}
